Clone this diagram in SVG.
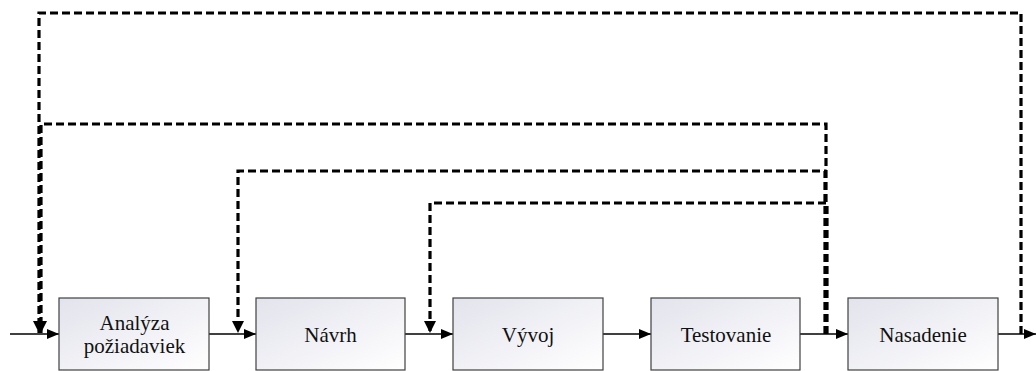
<svg xmlns="http://www.w3.org/2000/svg" width="1036" height="371" viewBox="0 0 1036 371">
<defs>
<linearGradient id="g" x1="0" y1="0" x2="1" y2="1">
<stop offset="0" stop-color="#e2e3ec"/>
<stop offset="1" stop-color="#ffffff"/>
</linearGradient>
<marker id="ah" viewBox="0 0 12 10" refX="12" refY="5" markerWidth="12" markerHeight="10" markerUnits="userSpaceOnUse" orient="auto">
<path d="M0,0 L12,5 L0,10 Z" fill="#000"/>
</marker>
<marker id="dh" viewBox="0 0 12 12" refX="12" refY="6" markerWidth="12" markerHeight="12" markerUnits="userSpaceOnUse" orient="auto">
<path d="M0,0 L12,6 L0,12 Z" fill="#000"/>
</marker>
</defs>
<style>
.box{fill:url(#g);stroke:#404040;stroke-width:1.2}
.lbl{font-family:"Liberation Serif","Times New Roman",serif;font-size:21px;fill:#111;text-anchor:middle}
.sol{fill:none;stroke:#000;stroke-width:1.5}
.dash{fill:none;stroke:#000;stroke-width:3.2;stroke-dasharray:8 4}
</style>
<rect width="1036" height="371" fill="#fff"/>
<g id="connectors">
<path class="sol" d="M10,334 H59" marker-end="url(#ah)"/>
<path class="sol" d="M209,334 H256" marker-end="url(#ah)"/>
<path class="sol" d="M405,334 H453" marker-end="url(#ah)"/>
<path class="sol" d="M603,334 H651" marker-end="url(#ah)"/>
<path class="sol" d="M800,334 H848" marker-end="url(#ah)"/>
<path class="sol" d="M998,334 H1036" marker-end="url(#ah)"/>
<path class="dash" d="M1021,334 V13 H39 V333" marker-end="url(#dh)"/>
<path class="dash" d="M826,334 V124 H41 V333" marker-end="url(#dh)"/>
<path class="dash" d="M825,334 V171 H238 V333" marker-end="url(#dh)"/>
<path class="dash" d="M827,334 V203 H430 V333" marker-end="url(#dh)"/>
</g>
<g id="analyza">
<rect class="box" x="59" y="298" width="150" height="72"/>
<text class="lbl" x="134.5" y="330">Analýza</text>
<text class="lbl" x="134.5" y="353">požiadaviek</text>
</g>
<g id="navrh">
<rect class="box" x="256" y="298" width="149" height="72"/>
<text class="lbl" x="330.5" y="342">Návrh</text>
</g>
<g id="vyvoj">
<rect class="box" x="453" y="298" width="150" height="72"/>
<text class="lbl" x="528" y="342">Vývoj</text>
</g>
<g id="testovanie">
<rect class="box" x="651" y="298" width="149" height="72"/>
<text class="lbl" x="726" y="342">Testovanie</text>
</g>
<g id="nasadenie">
<rect class="box" x="848" y="298" width="150" height="72"/>
<text class="lbl" x="923" y="342">Nasadenie</text>
</g>
</svg>
